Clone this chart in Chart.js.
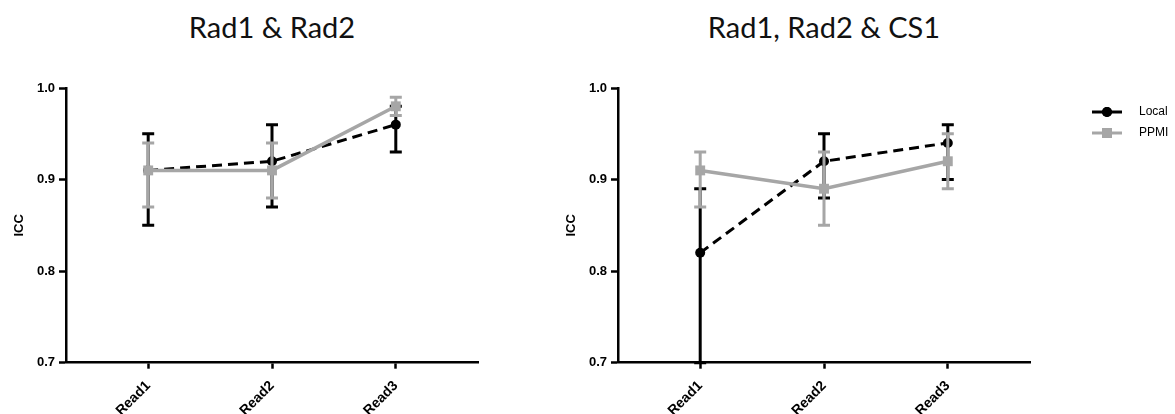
<!DOCTYPE html>
<html>
<head>
<meta charset="utf-8">
<script src="https://cdn.jsdelivr.net/npm/chart.js@4.4.1/dist/chart.umd.min.js"></script>
<style>
  body { margin: 0; background: #fff; width: 1175px; height: 414px; overflow: hidden; position: relative; }
  canvas { position: absolute; top: 0; }
  .ttl { position: absolute; top: 12px; width: 412px; text-align: center; font-family: Lato, "Open Sans", sans-serif; font-size: 29px; line-height: 29px; color: #111; white-space: nowrap; }
</style>
</head>
<body>
<div class="ttl" style="left:66px">Rad1 &amp; Rad2</div>
<div class="ttl" style="left:618px">Rad1, Rad2 &amp; CS1</div>
<canvas id="left" width="552" height="414" style="left:0"></canvas>
<canvas id="right" width="623" height="414" style="left:552px"></canvas>
<script>
/* ---- data ---- */
var categories = ['Read1', 'Read2', 'Read3'];
var yTicks = [0.7, 0.8, 0.9, 1.0];

// Rad1 & Rad2
var leftLocal     = [0.91, 0.92, 0.96];
var leftLocalLow  = [0.85, 0.87, 0.93];
var leftLocalHigh = [0.95, 0.96, 0.98];
var leftPpmi      = [0.91, 0.91, 0.98];
var leftPpmiLow   = [0.87, 0.88, 0.97];
var leftPpmiHigh  = [0.94, 0.94, 0.99];

// Rad1, Rad2 & CS1
var rightLocal     = [0.82, 0.92, 0.94];
var rightLocalLow  = [0.70, 0.88, 0.90];
var rightLocalHigh = [0.89, 0.95, 0.96];
var rightPpmi      = [0.91, 0.89, 0.92];
var rightPpmiLow   = [0.87, 0.85, 0.89];
var rightPpmiHigh  = [0.93, 0.93, 0.95];

var black = '#000000';
var grey = '#a6a6a6';

Chart.defaults.font.family = '"Liberation Sans", Arial, sans-serif';
Chart.defaults.font.weight = 'bold';
Chart.defaults.font.size = 13;
Chart.defaults.color = '#000';

/* ---- error bars, drawn under each dataset's own line ---- */
var errorBars = {
  id: 'errorBars',
  beforeDatasetDraw: function(chart, args) {
    var ds = chart.data.datasets[args.index];
    var y = chart.scales.y;
    var ctx = chart.ctx;
    ctx.save();
    ctx.strokeStyle = ds.borderColor;
    ctx.lineWidth = 3;
    ctx.setLineDash([]);
    args.meta.data.forEach(function(pt, i) {
      var top = y.getPixelForValue(ds.errHigh[i]);
      var bot = y.getPixelForValue(ds.errLow[i]);
      ctx.beginPath();
      ctx.moveTo(pt.x, top); ctx.lineTo(pt.x, bot);
      ctx.moveTo(pt.x - 6, top); ctx.lineTo(pt.x + 6, top);
      ctx.moveTo(pt.x - 6, bot); ctx.lineTo(pt.x + 6, bot);
      ctx.stroke();
    });
    ctx.restore();
  }
};

/* ---- legend with line + marker icons ---- */
var lineLegend = {
  id: 'lineLegend',
  afterDraw: function(chart) {
    var ctx = chart.ctx;
    var rows = [chart.data.datasets[0], chart.data.datasets[1]];
    rows.forEach(function(ds, k) {
      var yy = 112 + k * 21;
      ctx.save();
      ctx.strokeStyle = ds.borderColor;
      ctx.lineWidth = 3;
      ctx.beginPath();
      ctx.moveTo(540, yy); ctx.lineTo(570, yy);
      ctx.stroke();
      ctx.fillStyle = ds.borderColor;
      Chart.helpers.drawPoint(ctx, { pointStyle: ds.pointStyle, radius: ds.pointRadius, rotation: 0, borderWidth: 0 }, 555, yy);
      ctx.fill();
      ctx.fillStyle = '#000';
      ctx.font = '12px "Liberation Sans", Arial, sans-serif';
      ctx.textBaseline = 'middle';
      ctx.fillText(ds.label, 587, yy);
      ctx.restore();
    });
  }
};

function pts(vals) {
  return vals.map(function(v, i) { return { x: i, y: v }; });
}

function makeChart(id, local, localLow, localHigh, ppmi, ppmiLow, ppmiHigh, withLegend) {
  var plugins = [errorBars];
  if (withLegend) plugins.push(lineLegend);
  return new Chart(document.getElementById(id), {
    type: 'line',
    data: {
      datasets: [{
        label: 'Local',
        data: pts(local),
        errLow: localLow,
        errHigh: localHigh,
        borderColor: black,
        backgroundColor: black,
        borderWidth: 3,
        borderDash: [10, 6],
        pointStyle: 'circle',
        pointRadius: 5,
        pointBorderWidth: 0,
        clip: false,
        order: 2
      }, {
        label: 'PPMI',
        data: pts(ppmi),
        errLow: ppmiLow,
        errHigh: ppmiHigh,
        borderColor: grey,
        backgroundColor: grey,
        borderWidth: 3.5,
        pointStyle: 'rect',
        pointRadius: 7,
        pointBorderWidth: 0,
        clip: false,
        order: 1
      }]
    },
    options: {
      responsive: false,
      animation: false,
      layout: { padding: { left: 0, right: 623 - 478 - (id === 'left' ? 71 : 0), top: 88, bottom: 0 } },
      plugins: { legend: { display: false }, tooltip: { enabled: false } },
      scales: {
        x: {
          type: 'linear',
          min: -0.664,
          max: 2.664,
          afterBuildTicks: function(scale) {
            scale.ticks = categories.map(function(c, i) { return { value: i }; });
          },
          afterFit: function(scale) { scale.height = 51.3; },
          ticks: {
            autoSkip: false,
            minRotation: 45,
            maxRotation: 45,
            padding: 9,
            font: { size: 14, weight: 'bold' },
            callback: function(v) { return categories[v]; }
          },
          grid: { display: true, drawOnChartArea: false, drawTicks: true, tickLength: 6, tickColor: black, tickWidth: 2.5 },
          border: { display: true, color: black, width: 2.5 }
        },
        y: {
          min: 0.7,
          max: 1.0,
          afterBuildTicks: function(scale) {
            scale.ticks = yTicks.map(function(v) { return { value: v }; });
          },
          afterFit: function(scale) { scale.width = 66; },
          ticks: {
            padding: 4,
            font: { size: 13, weight: 'bold' },
            callback: function(v) { return v.toFixed(1); }
          },
          title: { display: true, text: 'ICC', font: { size: 13, weight: 'bold' }, padding: { top: 12, bottom: 0 } },
          grid: { display: true, drawOnChartArea: false, drawTicks: true, tickLength: 7, tickColor: black, tickWidth: 2.5 },
          border: { display: true, color: black, width: 2.5 }
        }
      }
    },
    plugins: plugins
  });
}

makeChart('left', leftLocal, leftLocalLow, leftLocalHigh, leftPpmi, leftPpmiLow, leftPpmiHigh, false);
makeChart('right', rightLocal, rightLocalLow, rightLocalHigh, rightPpmi, rightPpmiLow, rightPpmiHigh, true);
</script>
</body>
</html>
